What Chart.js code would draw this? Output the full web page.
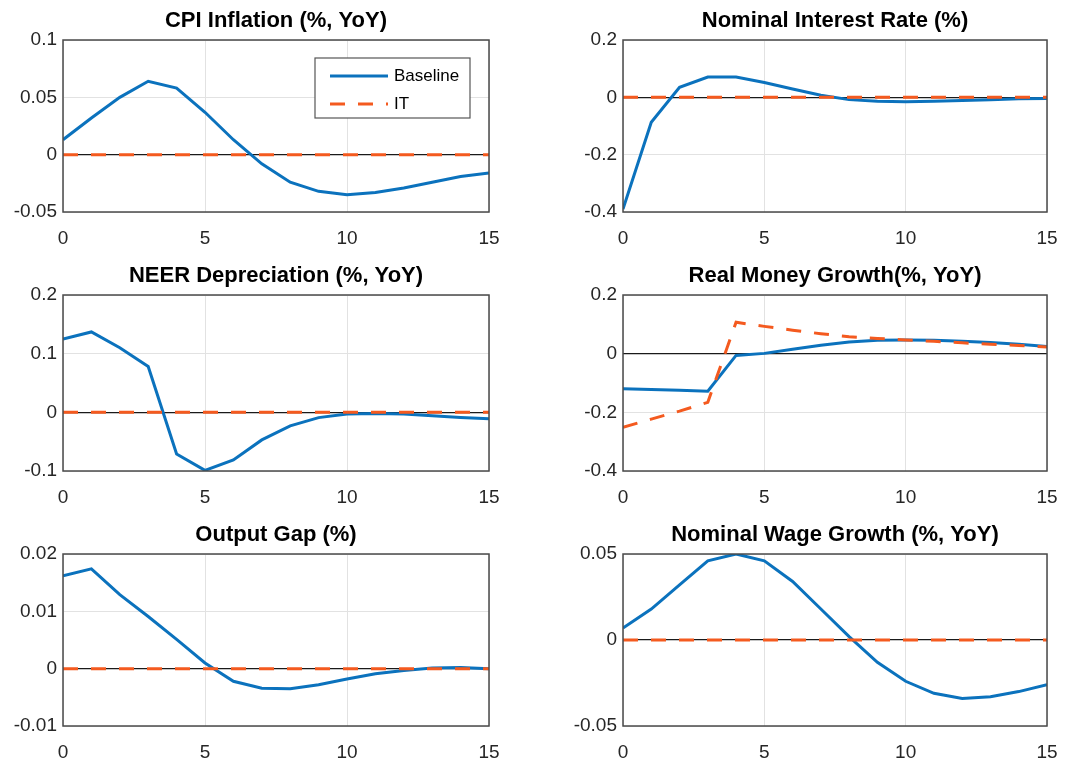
<!DOCTYPE html>
<html>
<head>
<meta charset="utf-8">
<script src="https://cdn.jsdelivr.net/npm/chart.js@4.4.1/dist/chart.umd.min.js"></script>
<style>
  body { margin: 0; background: #fff; width: 1065px; height: 761px; position: relative; overflow: hidden; }
  canvas { position: absolute; }
</style>
</head>
<body>
<canvas id="cpi"></canvas>
<canvas id="rate"></canvas>
<canvas id="neer"></canvas>
<canvas id="money"></canvas>
<canvas id="gap"></canvas>
<canvas id="wage"></canvas>

<script>
// Quarters after the shock
const periods = [0, 1, 2, 3, 4, 5, 6, 7, 8, 9, 10, 11, 12, 13, 14, 15];
const seriesNames = ["Baseline", "IT"];

// CPI Inflation (%, YoY)
const cpiBaseline = [0.013, 0.032, 0.050, 0.064, 0.058, 0.037, 0.013, -0.008, -0.024, -0.032, -0.035, -0.033, -0.029, -0.024, -0.019, -0.016];
const cpiIT = [0, 0, 0, 0, 0, 0, 0, 0, 0, 0, 0, 0, 0, 0, 0, 0];

// Nominal Interest Rate (%)
const rateBaseline = [-0.39, -0.087, 0.035, 0.071, 0.071, 0.052, 0.029, 0.007, -0.008, -0.014, -0.015, -0.014, -0.011, -0.008, -0.005, -0.004];
const rateIT = [0, 0, 0, 0, 0, 0, 0, 0, 0, 0, 0, 0, 0, 0, 0, 0];

// NEER Depreciation (%, YoY)
const neerBaseline = [0.125, 0.137, 0.110, 0.078, -0.071, -0.099, -0.081, -0.047, -0.023, -0.009, -0.003, -0.002, -0.003, -0.006, -0.009, -0.011];
const neerIT = [0, 0, 0, 0, 0, 0, 0, 0, 0, 0, 0, 0, 0, 0, 0, 0];

// Real Money Growth (%, YoY)
const moneyBaseline = [-0.120, -0.122, -0.125, -0.128, -0.006, 0.001, 0.015, 0.029, 0.040, 0.046, 0.047, 0.046, 0.042, 0.038, 0.032, 0.024];
const moneyIT = [-0.251, -0.223, -0.196, -0.166, 0.107, 0.093, 0.080, 0.068, 0.058, 0.052, 0.047, 0.042, 0.037, 0.032, 0.028, 0.023];

// Output Gap (%)
const gapBaseline = [0.0162, 0.0174, 0.0129, 0.0091, 0.0051, 0.0010, -0.0022, -0.0034, -0.0035, -0.0028, -0.0018, -0.0009, -0.0003, 0.0001, 0.0002, 0.0000];
const gapIT = [0, 0, 0, 0, 0, 0, 0, 0, 0, 0, 0, 0, 0, 0, 0, 0];

// Nominal Wage Growth (%, YoY)
const wageBaseline = [0.007, 0.018, 0.032, 0.046, 0.050, 0.046, 0.034, 0.018, 0.002, -0.013, -0.024, -0.031, -0.034, -0.033, -0.030, -0.026];
const wageIT = [0, 0, 0, 0, 0, 0, 0, 0, 0, 0, 0, 0, 0, 0, 0, 0];

const xTicks = [0, 5, 10, 15];

const BLUE = "#0b72bd";
const ORANGE = "#f45a1f";
const DASH = [15, 13];
const FONT = "'Liberation Sans', Arial, sans-serif";

// Draw the MATLAB style box around the plot area, and center the title over it
const boxPlugin = {
  id: "axesBox",
  afterLayout(chart) {
    if (chart.titleBlock) {
      chart.titleBlock.left = chart.chartArea.left;
      chart.titleBlock.right = chart.chartArea.right;
    }
  },
  afterDatasetsDraw(chart) {
    const a = chart.chartArea;
    const ctx = chart.ctx;
    ctx.save();
    ctx.strokeStyle = "#4a4a4a";
    ctx.lineWidth = 1.5;
    ctx.strokeRect(a.left, a.top, a.right - a.left, a.bottom - a.top);
    ctx.restore();
  }
};

// Legend box inside the first panel (upper right)
const legendPlugin = {
  id: "boxLegend",
  afterDraw(chart, args, opts) {
    if (!opts.show) return;
    const a = chart.chartArea;
    const ctx = chart.ctx;
    const w = 155, h = 60;
    const x = a.right - 19 - w;
    const y = a.top + 18;
    ctx.save();
    ctx.fillStyle = "#fff";
    ctx.fillRect(x, y, w, h);
    ctx.strokeStyle = "#555";
    ctx.lineWidth = 1.2;
    ctx.strokeRect(x, y, w, h);
    ctx.font = "17px " + FONT;
    ctx.textBaseline = "middle";
    ctx.fillStyle = "#000";
    chart.data.datasets.forEach((ds, i) => {
      const ly = y + 18 + i * 28;
      ctx.beginPath();
      ctx.strokeStyle = ds.borderColor;
      ctx.lineWidth = 3;
      ctx.setLineDash(ds.borderDash || []);
      ctx.moveTo(x + 15, ly);
      ctx.lineTo(x + 73, ly);
      ctx.stroke();
      ctx.setLineDash([]);
      ctx.fillText(ds.label, x + 79, ly);
    });
    ctx.restore();
  }
};

function fmt(v) {
  return String(+Number(v).toFixed(4));
}

function makePanel(id, opt) {
  const canvas = document.getElementById(id);
  const leftCol = opt.col === 0;
  const width = leftCol ? 505 : 525;
  const axisW = leftCol ? 63 : 83;
  canvas.width = width;
  canvas.height = opt.plotH + 80;
  canvas.style.left = (leftCol ? 0 : 540) + "px";
  canvas.style.top = (opt.plotTop - 40) + "px";

  return new Chart(canvas, {
    type: "line",
    data: {
      labels: periods,
      datasets: [
        { label: seriesNames[0], data: opt.base, borderColor: BLUE, borderWidth: 3, pointRadius: 0, tension: 0, order: 1 },
        { label: seriesNames[1], data: opt.it, borderColor: ORANGE, borderWidth: 3, borderDash: DASH, pointRadius: 0, tension: 0, order: 0 }
      ]
    },
    options: {
      responsive: false,
      animation: false,
      devicePixelRatio: 1,
      layout: { padding: { left: 0, right: leftCol ? 16 : 18, top: 0, bottom: 0 } },
      plugins: {
        legend: { display: false },
        tooltip: { enabled: false },
        boxLegend: { show: !!opt.legend },
        title: {
          display: true,
          text: opt.title,
          color: "#000",
          font: { family: FONT, size: 22, weight: "bold", lineHeight: "22px" },
          padding: { top: 10, bottom: 8 }
        }
      },
      scales: {
        x: {
          type: "linear",
          min: 0,
          max: 15,
          afterFit(scale) { scale.height = 40; scale.paddingLeft = 0; scale.paddingRight = 0; },
          afterBuildTicks(scale) { scale.ticks = xTicks.map(v => ({ value: v })); },
          border: { display: false },
          grid: { color: "#e2e2e2", lineWidth: 1, drawTicks: false },
          ticks: { color: "#262626", padding: 15, font: { family: FONT, size: 19 }, maxRotation: 0, callback: v => fmt(v) }
        },
        y: {
          min: opt.min,
          max: opt.max,
          afterFit(scale) { scale.width = axisW; scale.paddingTop = 0; scale.paddingBottom = 0; },
          border: { display: false },
          grid: {
            drawTicks: false,
            color: c => Math.abs(c.tick.value) < 1e-9 ? "#1a1a1a" : "#e2e2e2",
            lineWidth: c => Math.abs(c.tick.value) < 1e-9 ? 1.3 : 1
          },
          ticks: { stepSize: opt.step, color: "#262626", padding: 6, font: { family: FONT, size: 19 }, callback: v => fmt(v) }
        }
      }
    },
    plugins: [boxPlugin, legendPlugin]
  });
}

// Build the six panels
makePanel("cpi",   { col: 0, plotTop: 40,  plotH: 172, title: "CPI Inflation (%, YoY)",       base: cpiBaseline,   it: cpiIT,   min: -0.05, max: 0.1,  step: 0.05, legend: true });
makePanel("rate",  { col: 1, plotTop: 40,  plotH: 172, title: "Nominal Interest Rate (%)",    base: rateBaseline,  it: rateIT,  min: -0.4,  max: 0.2,  step: 0.2 });
makePanel("neer",  { col: 0, plotTop: 295, plotH: 176, title: "NEER Depreciation (%, YoY)",   base: neerBaseline,  it: neerIT,  min: -0.1,  max: 0.2,  step: 0.1 });
makePanel("money", { col: 1, plotTop: 295, plotH: 176, title: "Real Money Growth(%, YoY)",    base: moneyBaseline, it: moneyIT, min: -0.4,  max: 0.2,  step: 0.2 });
makePanel("gap",   { col: 0, plotTop: 554, plotH: 172, title: "Output Gap (%)",               base: gapBaseline,   it: gapIT,   min: -0.01, max: 0.02, step: 0.01 });
makePanel("wage",  { col: 1, plotTop: 554, plotH: 172, title: "Nominal Wage Growth (%, YoY)", base: wageBaseline,  it: wageIT,  min: -0.05, max: 0.05, step: 0.05 });
</script>
</body>
</html>
